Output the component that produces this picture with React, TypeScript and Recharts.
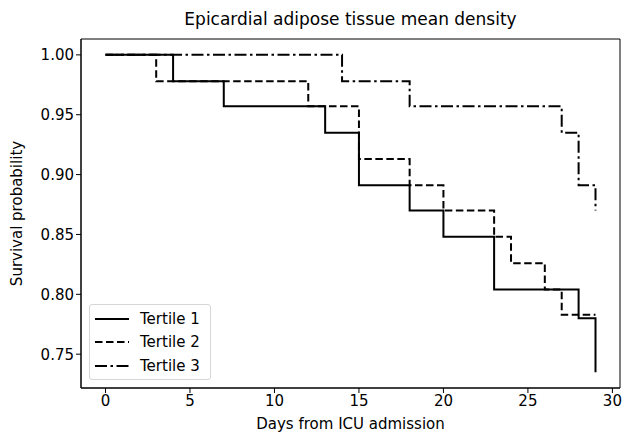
import React from "react";
import { LineChart, Line, XAxis, YAxis, ReferenceArea, Label } from "recharts";

// Kaplan-Meier step values
const days1 = [0, 4, 7, 13, 15, 18, 20, 23, 28, 29];
const surv1 = [1.0, 0.978, 0.957, 0.935, 0.891, 0.87, 0.848, 0.804, 0.78, 0.735];

const days2 = [0, 3, 12, 15, 18, 20, 23, 24, 26, 27, 29];
const surv2 = [1.0, 0.978, 0.957, 0.913, 0.891, 0.87, 0.848, 0.826, 0.804, 0.783, 0.783];

const days3 = [0, 14, 18, 27, 28, 29];
const surv3 = [1.0, 0.978, 0.957, 0.935, 0.891, 0.87];

const xTicks = [0, 5, 10, 15, 20, 25, 30];
const yTicks = [0.75, 0.8, 0.85, 0.9, 0.95, 1.0];
const seriesNames = ["Tertile 1", "Tertile 2", "Tertile 3"];

const DASHES = ["", "7.5 3.5", "12 3.5 2.5 3.5"];
const FONT = "'DejaVu Sans', sans-serif";
const TICK = { fill: "#000", fontSize: 15, fontFamily: FONT };

function toRows(days: number[], surv: number[]) {
  return days.map((t, i) => ({ t, s: surv[i] }));
}

const series = [toRows(days1, surv1), toRows(days2, surv2), toRows(days3, surv3)];

const X_DOMAIN: [number, number] = [-1.45, 30.45];
const Y_DOMAIN: [number, number] = [0.72175, 1.01325];

function LegendBox() {
  return (
    <div
      style={{
        position: "absolute",
        left: 89,
        top: 304,
        width: 122,
        height: 76,
        border: "1px solid #d6d6d6",
        borderRadius: 3,
        background: "rgba(255,255,255,0.85)",
        fontFamily: FONT,
        fontSize: 15,
        boxSizing: "border-box",
        paddingTop: 2,
      }}
    >
      {seriesNames.map((name, i) => (
        <div key={name} style={{ display: "flex", alignItems: "center", height: 23.5 }}>
          <svg width={46} height={10} style={{ marginLeft: 4, flex: "none" }}>
            <line
              x1={1}
              y1={5}
              x2={35}
              y2={5}
              stroke="#000"
              strokeWidth={2}
              strokeDasharray={DASHES[i] || undefined}
            />
          </svg>
          <span style={{ color: "#000", whiteSpace: "nowrap" }}>{name}</span>
        </div>
      ))}
    </div>
  );
}

export default function App() {
  return (
    <div style={{ position: "absolute", left: 0, top: 0, width: 623, height: 434, background: "#fff" }}>
      <div
        style={{
          position: "absolute",
          left: 81,
          width: 539,
          top: 9,
          textAlign: "center",
          fontFamily: FONT,
          fontSize: 17,
          color: "#000",
        }}
      >
        Epicardial adipose tissue mean density
      </div>
      <LineChart
        width={623}
        height={434}
        margin={{ top: 39, right: 3, bottom: 0, left: 0 }}
        style={{ fontFamily: FONT }}
      >
        <XAxis
          type="number"
          dataKey="t"
          domain={X_DOMAIN}
          ticks={xTicks}
          allowDataOverflow
          height={46}
          tick={TICK}
          tickLine={{ stroke: "#000" }}
          axisLine={{ stroke: "#000" }}
          tickSize={5}
        >
          <Label
            value="Days from ICU admission"
            position="insideBottom"
            offset={5}
            style={{ fill: "#000", fontSize: 15, fontFamily: FONT }}
          />
        </XAxis>
        <YAxis
          type="number"
          domain={Y_DOMAIN}
          ticks={yTicks}
          allowDataOverflow
          width={81}
          tickFormatter={(v: number) => v.toFixed(2)}
          tick={TICK}
          tickLine={{ stroke: "#000" }}
          axisLine={{ stroke: "#000" }}
          tickSize={5}
        >
          <Label
            value="Survival probability"
            angle={-90}
            position="insideLeft"
            offset={17}
            style={{ fill: "#000", fontSize: 15, fontFamily: FONT, textAnchor: "middle" }}
          />
        </YAxis>
        <ReferenceArea
          x1={X_DOMAIN[0]}
          x2={X_DOMAIN[1]}
          y1={Y_DOMAIN[0]}
          y2={Y_DOMAIN[1]}
          fill="none"
          stroke="#000"
          strokeWidth={1}
        />
        {series.map((rows, i) => (
          <Line
            key={seriesNames[i]}
            data={rows}
            dataKey="s"
            name={seriesNames[i]}
            type="stepAfter"
            stroke="#000"
            strokeWidth={2}
            strokeDasharray={DASHES[i] || undefined}
            dot={false}
            activeDot={false}
            isAnimationActive={false}
          />
        ))}
      </LineChart>
      <LegendBox />
    </div>
  );
}
